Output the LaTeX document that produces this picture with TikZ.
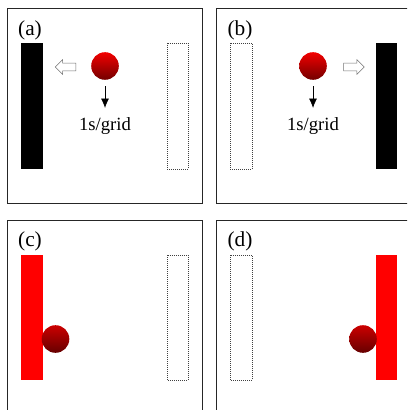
\documentclass[tikz,border=0pt]{standalone}
\usepackage{fontspec}
\setmainfont{Liberation Serif}
\usetikzlibrary{arrows.meta,positioning,shapes.arrows,calc}

\begin{document}
\begin{tikzpicture}[x=0.75pt,y=-0.75pt,
	panel/.style={draw=black!85,line width=0.7pt},
	ghost/.style={draw=black!75,densely dotted,line width=0.5pt},
	ball/.style={circle,minimum size=20.7pt,inner sep=0pt,top color=red!95!black,bottom color=red!45!black},
	push/.style={single arrow,draw=black!55,fill=white,line width=0.4pt,minimum height=15.5pt,inner xsep=0pt,inner ysep=2.7pt,single arrow head extend=2.6pt},
	lbl/.style={font=\fontsize{16}{18}\selectfont,inner sep=0pt},
	rate/.style={font=\fontsize{14}{16}\selectfont,inner sep=0pt},
	fall/.style={-{Latex[length=7pt,width=6pt]},line width=0.5pt}]
	\useasboundingbox (0,0) rectangle (407,410);
	\clip (0,0) rectangle (407,410);
	% panel frames
	\foreach \x/\y in {7/8,216/8,7/220,216/220}{\draw[panel] (\x,\y) rectangle ++(195,195);}
	% (a)
	\node[lbl] (la) at (30,30) {(a)};
	\fill[black] (21,43) rectangle (43,169);
	\draw[ghost] (167,43) rectangle (188,169);
	\node[ball] (ba) at (105,66) {};
	\node[push,shape border rotate=180] (pa) at (67.5,67) {};
	\node[rate] (ta) at (105,126) {1s/grid};
	\draw[fall] ([yshift=-4.5pt]ba.south) -- ([yshift=7pt]ta.north);
	% (b)
	\node[lbl] (lb) at (240,30) {(b)};
	\fill[black] (376,43) rectangle (397,169);
	\draw[ghost] (230,43) rectangle (252,169);
	\node[ball] (bb) at (313,66) {};
	\node[push] (pb) at (352,67) {};
	\node[rate] (tb) at (313,126) {1s/grid};
	\draw[fall] ([yshift=-4.5pt]bb.south) -- ([yshift=7pt]tb.north);
	% (c)
	\node[lbl] (lc) at (30,241) {(c)};
	\fill[red] (21,255) rectangle (43,380);
	\draw[ghost] (167,255) rectangle (188,380);
	\node[ball,top color=red!80!black,bottom color=red!40!black] (bc) at (55.5,339) {};
	% (d)
	\node[lbl] (ld) at (240,241) {(d)};
	\fill[red] (376,255) rectangle (397,380);
	\draw[ghost] (230,255) rectangle (252,380);
	\node[ball,top color=red!80!black,bottom color=red!40!black] (bd) at (363,339) {};
\end{tikzpicture}
\end{document}
